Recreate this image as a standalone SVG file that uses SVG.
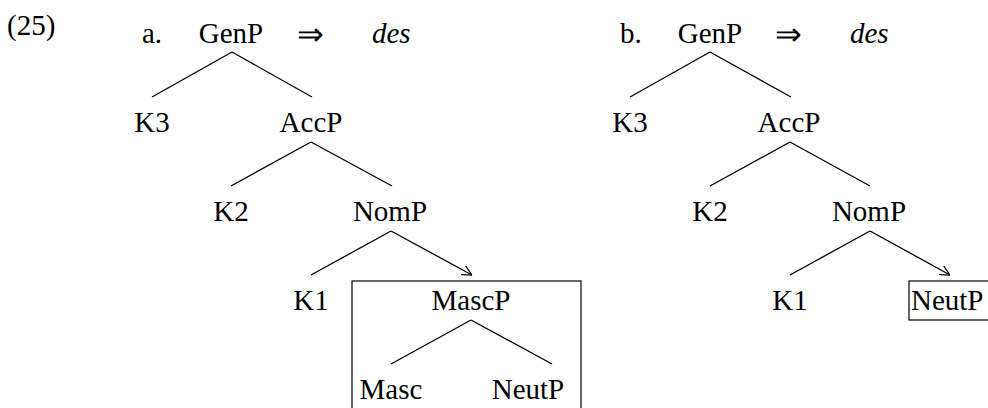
<svg xmlns="http://www.w3.org/2000/svg" width="988" height="408" viewBox="0 0 988 408">
<defs>
<style>
text{font-family:"Liberation Serif","Times New Roman",serif;font-size:29px;fill:#000}
.c{text-anchor:middle}
.it{font-style:italic}
.ar{font-family:"DejaVu Sans",sans-serif;font-size:32px;font-weight:200}
.edge{stroke:#000;stroke-width:1.3;fill:none}
.box{stroke:#000;stroke-width:1.2;fill:none}
</style>
<marker id="arr" viewBox="0 0 10 10" refX="10" refY="5" markerWidth="10" markerHeight="10" markerUnits="userSpaceOnUse" orient="auto">
<path d="M0,0 L10,5 L0,10" fill="none" stroke="#000" stroke-width="1.2"/>
</marker>
</defs>
<rect width="988" height="408" fill="#fff"/>
<text x="7" y="35" font-size="27">(25)</text>
<g id="labels">
<text x="297" y="45" class="ar">⇒</text>
<text x="142" y="43">a.</text>
<text x="372" y="43" class="it">des</text>
<text x="620" y="43">b.</text>
<text x="775" y="45" class="ar">⇒</text>
<text x="850" y="43" class="it">des</text>
</g>
<g id="connectors">
<line class="edge" x1="232" y1="52" x2="152" y2="97"/>
<line class="edge" x1="232" y1="52" x2="312" y2="97"/>
<line class="edge" x1="311" y1="142" x2="231" y2="186"/>
<line class="edge" x1="311" y1="142" x2="392" y2="186"/>
<line class="edge" x1="391" y1="231" x2="311" y2="275"/>
<line class="edge" x1="391" y1="231" x2="472" y2="275" marker-end="url(#arr)"/>
<line class="edge" x1="471" y1="320" x2="391" y2="364"/>
<line class="edge" x1="471" y1="320" x2="552" y2="364"/>
<line class="edge" x1="710" y1="52" x2="630" y2="97"/>
<line class="edge" x1="710" y1="52" x2="791" y2="97"/>
<line class="edge" x1="790" y1="142" x2="710" y2="186"/>
<line class="edge" x1="790" y1="142" x2="870" y2="186"/>
<line class="edge" x1="870" y1="231" x2="790" y2="275"/>
<line class="edge" x1="870" y1="231" x2="950" y2="275" marker-end="url(#arr)"/>
</g>
<g id="a-GenP"><text class="c" x="231" y="43">GenP</text></g>
<g id="a-K3"><text class="c" x="152" y="132">K3</text></g>
<g id="a-AccP"><text class="c" x="311" y="132">AccP</text></g>
<g id="a-K2"><text class="c" x="231" y="221">K2</text></g>
<g id="a-NomP"><text class="c" x="390" y="221">NomP</text></g>
<g id="a-K1"><text class="c" x="311" y="310">K1</text></g>
<g id="a-box"><rect class="box" x="352" y="281" width="229" height="140"/></g>
<g id="a-MascP"><text class="c" x="471" y="310">MascP</text></g>
<g id="a-Masc"><text class="c" x="391" y="399">Masc</text></g>
<g id="a-NeutP"><text class="c" x="528" y="399">NeutP</text></g>
<g id="b-GenP"><text class="c" x="710" y="43">GenP</text></g>
<g id="b-K3"><text class="c" x="630" y="132">K3</text></g>
<g id="b-AccP"><text class="c" x="789" y="132">AccP</text></g>
<g id="b-K2"><text class="c" x="710" y="221">K2</text></g>
<g id="b-NomP"><text class="c" x="869" y="221">NomP</text></g>
<g id="b-K1"><text class="c" x="790" y="310">K1</text></g>
<g id="b-NeutP"><rect class="box" x="909" y="281" width="90" height="39"/><text x="911" y="310">NeutP</text></g>
</svg>
